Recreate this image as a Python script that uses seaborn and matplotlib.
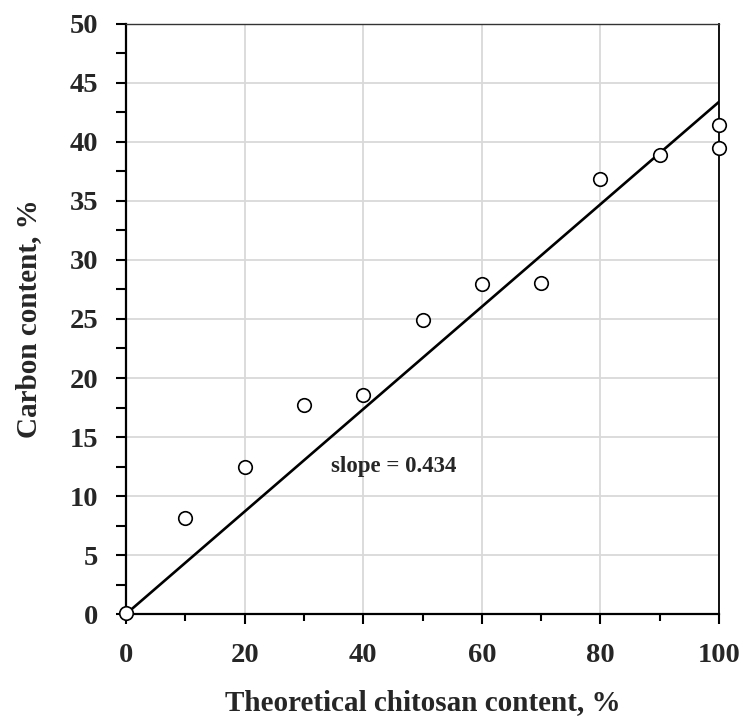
import matplotlib
matplotlib.use("Agg")
import matplotlib.pyplot as plt
import seaborn as sns
import numpy as np
import pandas as pd
from matplotlib.ticker import MultipleLocator

# chitosan content vs measured carbon content
chitosan = [0, 10, 20, 30, 40, 50, 60, 70, 80, 90, 100, 100]
carbon = [0.1, 8.1, 12.5, 17.7, 18.6, 24.9, 28.0, 28.05, 36.85, 38.9, 41.45, 39.5]
slope = 0.434
slope_label = "slope = 0.434"

sns.set_style("white")
plt.rcParams['font.family'] = ['Liberation Serif', 'DejaVu Serif']
plt.rcParams['font.weight'] = 'bold'

df = pd.DataFrame({"x": chitosan, "y": carbon})

fig = plt.figure(figsize=(7.43, 7.2), dpi=100)
ax = fig.add_axes([0.1696, 0.1472, 0.7981, 0.8195])

ax.set_xlim(0, 100)
ax.set_ylim(0, 50)
ax.grid(True, which="major", color="#d9d9d9", linewidth=1.3)
ax.set_axisbelow(True)

# fit line through origin
fit = pd.DataFrame({"x": list(ax.get_xlim())})
fit["y"] = slope * fit["x"]
sns.lineplot(data=fit, x="x", y="y", ax=ax, color="black", linewidth=1.9, zorder=3)

sns.scatterplot(data=df, x="x", y="y", ax=ax, s=95, marker="o",
                facecolor="white", edgecolor="black", linewidth=1.2, zorder=4)
for c in ax.collections:
    c.set_clip_on(False)

ax.text(34.6, 12.5, slope_label, fontsize=16.5, fontweight="bold", va="center", ha="left")

ax.xaxis.set_major_locator(MultipleLocator(20))
ax.xaxis.set_minor_locator(MultipleLocator(10))
ax.yaxis.set_major_locator(MultipleLocator(5))
ax.yaxis.set_minor_locator(MultipleLocator(2.5))
ax.tick_params(axis="both", which="both", direction="out", color="black",
               bottom=True, left=True, top=False, right=False)
ax.tick_params(axis="both", which="major", length=7, width=1.5, labelsize=20.5)
ax.tick_params(axis="x", which="minor", length=5, width=1.5)
ax.tick_params(axis="y", which="minor", length=7, width=1.5)
ax.tick_params(axis="x", which="major", pad=14)
ax.tick_params(axis="y", which="major", pad=13)

for side in ["left", "bottom"]:
    ax.spines[side].set_linewidth(1.6)
    ax.spines[side].set_color("black")
ax.spines["right"].set_linewidth(1.3)
ax.spines["right"].set_color("black")
ax.spines["top"].set_linewidth(1.0)
ax.spines["top"].set_color("#333333")

ax.set_xlabel("Theoretical chitosan content, %", fontsize=21, fontweight="bold", labelpad=15)
ax.set_ylabel("Carbon content, %", fontsize=21, fontweight="bold", labelpad=20)

fig.savefig("out.png", dpi=100)
